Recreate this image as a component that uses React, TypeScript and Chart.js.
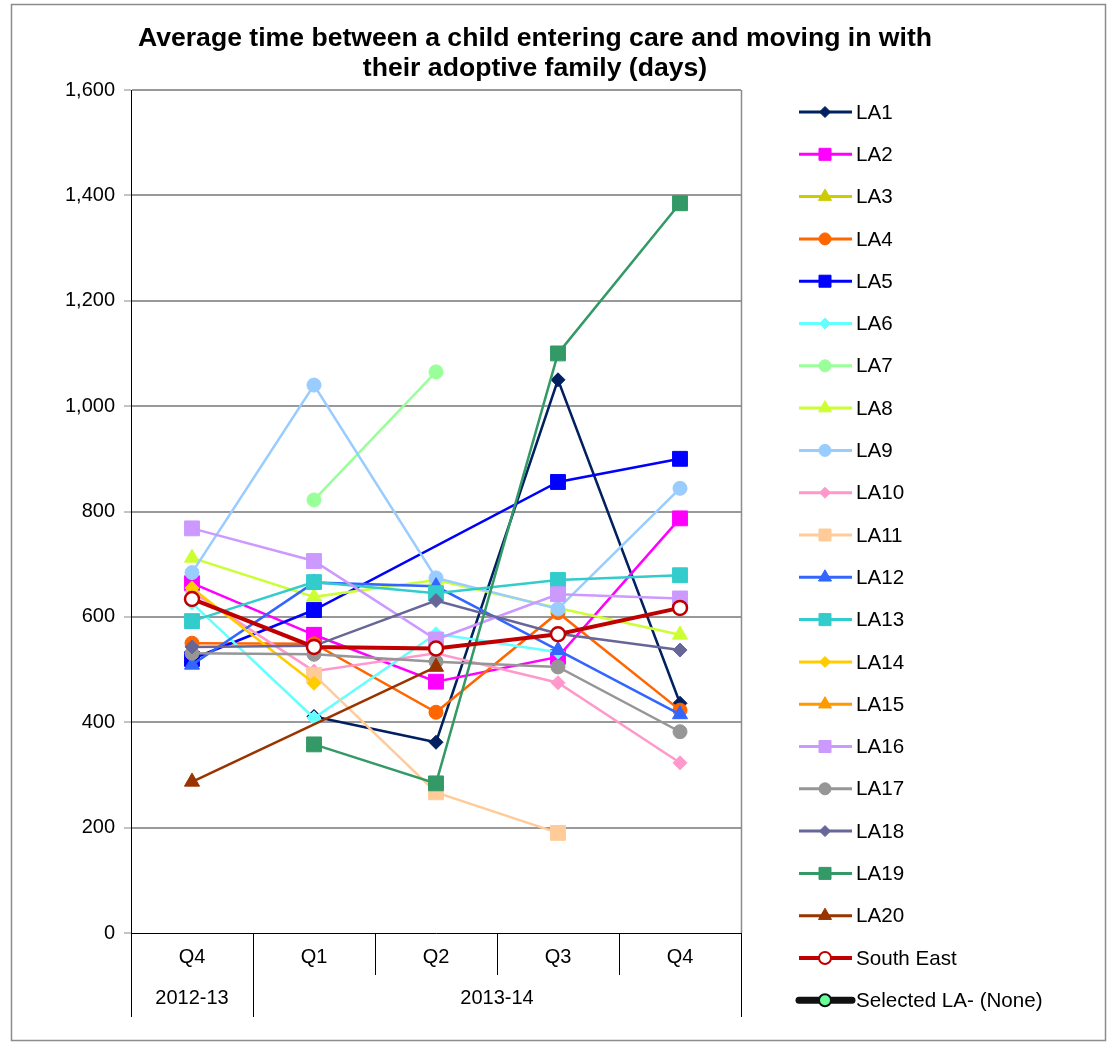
import React, { useEffect, useRef } from "react";
import { Chart, registerables } from "chart.js";

Chart.register(...registerables);

// ---------- data ----------
const quarters = ["Q4", "Q1", "Q2", "Q3", "Q4"];
const years = ["2012-13", "2013-14"];
const yearSpans = [1, 4];

const LA1 = [null, 411, 362, 1050, 436];
const LA2 = [664, 566, 477, 524, 787];
const LA3 = [null, null, null, null, null];
const LA4 = [550, 549, 419, 608, 423];
const LA5 = [520, 613, null, 856, 900];
const LA6 = [626, 408, 568, 533, null];
const LA7 = [null, 822, 1065, null, null];
const LA8 = [712, 638, 670, 617, 566];
const LA9 = [684, 1040, 674, 615, 844];
const LA10 = [648, 497, 531, 475, 323];
const LA11 = [null, 490, 267, 190, null];
const LA12 = [509, 665, 658, 537, 415];
const LA13 = [592, 666, 645, 670, 679];
const LA14 = [655, 474, null, null, null];
const LA15 = [null, null, null, null, null];
const LA16 = [768, 706, 557, 643, 635];
const LA17 = [531, 529, 515, 505, 382];
const LA18 = [543, 545, 631, 568, 537];
const LA19 = [null, 358, 284, 1100, 1385];
const LA20 = [287, null, 505, null, null];
const SouthEast = [634, 543, 540, 567, 617];
const SelectedLA = [null, null, null, null, null];

const seriesNames = [
  "LA1", "LA2", "LA3", "LA4", "LA5", "LA6", "LA7", "LA8", "LA9", "LA10",
  "LA11", "LA12", "LA13", "LA14", "LA15", "LA16", "LA17", "LA18", "LA19", "LA20",
  "South East", "Selected LA- (None)",
];
const seriesValues = [
  LA1, LA2, LA3, LA4, LA5, LA6, LA7, LA8, LA9, LA10,
  LA11, LA12, LA13, LA14, LA15, LA16, LA17, LA18, LA19, LA20,
  SouthEast, SelectedLA,
];
const seriesColors = [
  "#002060", "#FF00FF", "#CCCC00", "#FF6600", "#0000FF", "#66FFFF", "#99FF99", "#CCFF33", "#99CCFF", "#FF99CC",
  "#FFCC99", "#3366FF", "#33CCCC", "#FFCC00", "#FF9900", "#CC99FF", "#969696", "#666699", "#339966", "#993300",
  "#C00000", "#111111",
];
const seriesMarkers = [
  "rectRot", "rect", "triangle", "circle", "rect", "rectRot", "circle", "triangle", "circle", "rectRot",
  "rect", "triangle", "rect", "rectRot", "triangle", "rect", "circle", "rectRot", "rect", "triangle",
  "circle", "circle",
];

const TITLE_LINES = [
  "Average time between a child entering care and moving in with",
  "their adoptive family (days)",
];

// ---------- helpers ----------
const plotRadius: Record<string, number> = { circle: 7, rect: 10.5, rectRot: 7, triangle: 8.7 };
const legendRadius: Record<string, number> = { circle: 6, rect: 8.5, rectRot: 5.5, triangle: 7.5 };
const FONT = "Arial, 'Liberation Sans', sans-serif";

function markerFill(i: number) {
  if (i === 20) return "#FFFFFF";
  if (i === 21) return "#66FF99";
  return seriesColors[i];
}

function drawMarker(ctx: CanvasRenderingContext2D, shape: string, x: number, y: number, r: number, fill: string, stroke: string, bw: number) {
  ctx.beginPath();
  if (shape === "circle") {
    ctx.arc(x, y, r, 0, Math.PI * 2);
  } else if (shape === "rect") {
    const s = r * Math.SQRT1_2;
    ctx.rect(x - s, y - s, 2 * s, 2 * s);
  } else if (shape === "rectRot") {
    ctx.moveTo(x, y - r);
    ctx.lineTo(x + r, y);
    ctx.lineTo(x, y + r);
    ctx.lineTo(x - r, y);
    ctx.closePath();
  } else if (shape === "triangle") {
    for (let k = 0; k < 3; k++) {
      const a = -Math.PI / 2 + (k * 2 * Math.PI) / 3;
      const px = x + Math.cos(a) * r;
      const py = y + Math.sin(a) * r;
      if (k === 0) ctx.moveTo(px, py);
      else ctx.lineTo(px, py);
    }
    ctx.closePath();
  }
  ctx.fillStyle = fill;
  ctx.fill();
  ctx.lineWidth = bw;
  ctx.strokeStyle = stroke;
  ctx.stroke();
}

const decorPlugin = {
  id: "decor",
  beforeDraw(chart: any) {
    const ctx = chart.ctx as CanvasRenderingContext2D;
    ctx.save();
    ctx.fillStyle = "#FFFFFF";
    ctx.fillRect(0, 0, chart.width, chart.height);
    ctx.strokeStyle = "#8C8C8C";
    ctx.lineWidth = 1.5;
    ctx.strokeRect(11.5, 4.5, 1094, 1036);
    ctx.restore();
  },
  beforeDatasetsDraw(chart: any) {
    const ctx = chart.ctx as CanvasRenderingContext2D;
    const a = chart.chartArea;
    ctx.save();
    ctx.strokeStyle = "#8C8C8C";
    ctx.lineWidth = 1.5;
    ctx.beginPath();
    ctx.moveTo(a.right + 0.5, a.top);
    ctx.lineTo(a.right + 0.5, a.bottom);
    ctx.stroke();
    ctx.restore();
  },
  afterDraw(chart: any) {
    const ctx = chart.ctx as CanvasRenderingContext2D;
    const a = chart.chartArea;
    const xs = chart.scales.x;
    ctx.save();

    // title
    ctx.fillStyle = "#000";
    ctx.font = "bold 26.6px " + FONT;
    ctx.textAlign = "center";
    ctx.textBaseline = "middle";
    ctx.fillText(TITLE_LINES[0], 535, 39);
    ctx.fillText(TITLE_LINES[1], 535, 69);

    // second level category labels
    const w = xs.getPixelForValue(1) - xs.getPixelForValue(0);
    const b0 = xs.getPixelForValue(0) - w / 2;
    ctx.strokeStyle = "#000";
    ctx.lineWidth = 1;
    let k = 0;
    const bounds = [0];
    yearSpans.forEach((s) => { k += s; bounds.push(k); });
    bounds.forEach((bk) => {
      const bx = Math.round(b0 + bk * w) + 0.5;
      ctx.beginPath();
      ctx.moveTo(bx, a.bottom);
      ctx.lineTo(bx, 1017);
      ctx.stroke();
    });
    ctx.font = "20px " + FONT;
    ctx.textAlign = "center";
    ctx.textBaseline = "middle";
    years.forEach((yl, i) => {
      const cx = b0 + ((bounds[i] + bounds[i + 1]) / 2) * w;
      ctx.fillText(yl, cx, 998);
    });

    // legend
    const lx0 = 799, lx1 = 852, mx = 825, tx = 856;
    const ly0 = 112, step = 42.3;
    seriesNames.forEach((name, i) => {
      const y = ly0 + i * step;
      const lw = i === 20 ? 4 : i === 21 ? 7 : 3;
      ctx.strokeStyle = seriesColors[i];
      ctx.lineWidth = lw;
      ctx.lineCap = i === 21 ? "round" : "butt";
      ctx.beginPath();
      ctx.moveTo(lx0, y);
      ctx.lineTo(lx1, y);
      ctx.stroke();
      ctx.lineCap = "butt";
      const shape = seriesMarkers[i];
      drawMarker(ctx, shape, mx, y, legendRadius[shape], markerFill(i), i === 21 ? "#111" : seriesColors[i], i >= 20 ? 2 : 1);
      ctx.fillStyle = "#000";
      ctx.font = "20.6px " + FONT;
      ctx.textAlign = "left";
      ctx.textBaseline = "middle";
      ctx.fillText(name, tx, y + 1);
    });

    ctx.restore();
  },
};

export default function App() {
  const canvasRef = useRef<HTMLCanvasElement | null>(null);

  useEffect(() => {
    const canvas = canvasRef.current;
    if (!canvas) return;
    const n = seriesNames.length;
    const datasets = seriesNames.map((name, i) => {
      const shape = seriesMarkers[i];
      return {
        label: name,
        data: seriesValues[i],
        borderColor: seriesColors[i],
        backgroundColor: markerFill(i),
        borderWidth: i === 20 ? 4 : i === 21 ? 6 : 2.5,
        pointStyle: shape,
        pointRadius: i === 20 ? 7 : plotRadius[shape],
        pointBorderColor: seriesColors[i],
        pointBackgroundColor: markerFill(i),
        pointBorderWidth: i === 20 ? 2.5 : 1,
        tension: 0,
        spanGaps: true,
        order: n - i,
      };
    });

    const chart = new Chart(canvas, {
      type: "line",
      data: { labels: quarters, datasets },
      plugins: [decorPlugin],
      options: {
        responsive: false,
        animation: false,
        layout: { padding: { left: 0, top: 90, right: 372, bottom: 0 } },
        plugins: {
          legend: { display: false },
          title: { display: false },
          tooltip: { enabled: false },
        },
        scales: {
          x: {
            type: "category",
            offset: true,
            afterFit: (s: any) => { s.height = 113; },
            grid: {
              display: true,
              offset: true,
              drawOnChartArea: false,
              drawTicks: true,
              tickLength: 42,
              color: "#000",
              lineWidth: 1,
            },
            border: { display: true, color: "#000", width: 1 },
            ticks: {
              color: "#000",
              font: { family: FONT, size: 20 },
              padding: -30,
              maxRotation: 0,
              autoSkip: false,
            },
          },
          y: {
            min: 0,
            max: 1600,
            afterFit: (s: any) => { s.width = 131; },
            ticks: {
              stepSize: 200,
              color: "#000",
              padding: 9,
              font: { family: FONT, size: 20 },
              callback: (v: any) => Number(v).toLocaleString("en-US"),
            },
            grid: {
              color: (c: any) => (c.tick && c.tick.value === 0 ? "rgba(0,0,0,0)" : "#999999"),
              lineWidth: 2,
              tickLength: 7,
              tickColor: "#888888",
              tickWidth: 1,
            },
            border: { display: true, color: "#000", width: 1 },
          },
        },
      },
    });
    return () => chart.destroy();
  }, []);

  return (
    <div style={{ position: "absolute", left: 0, top: 0, width: 1113, height: 1046, background: "#fff" }}>
      <canvas ref={canvasRef} width={1113} height={1046} style={{ display: "block", width: 1113, height: 1046 }} />
    </div>
  );
}
